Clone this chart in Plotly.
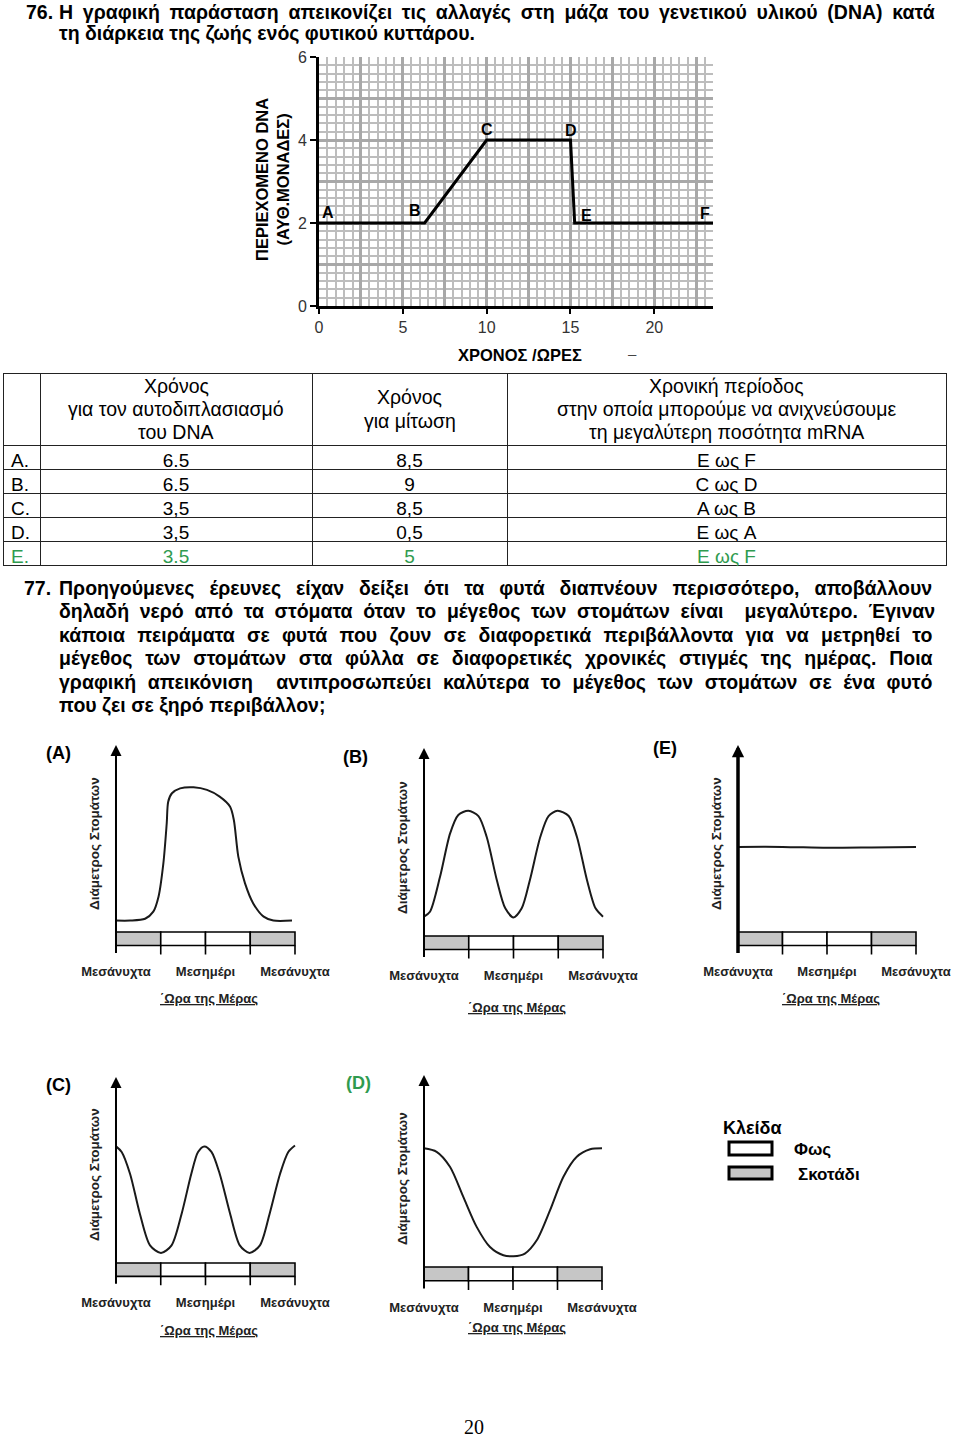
import plotly.graph_objects as go

W, H = 960, 1440
FONT = "Liberation Sans, Arial, sans-serif"
GREEN = "#2f9b4f"


def fx(px):
    return px / W


def fy(py):
    return 1 - py / H


# ---- question 76: DNA content over the cell cycle ----
dna_points = ["A", "B", "C", "D", "E", "F"]
dna_hours = [0, 6.3, 10, 15, 15.25, 23.5]
dna_content = [2, 2, 4, 4, 2, 2]
dna_xticks = [0, 5, 10, 15, 20]
dna_yticks = [0, 2, 4, 6]

# ---- answer table ----
table_header = [
    [],
    ["Χρόνος", "για τον αυτοδιπλασιασμό", "του DNA"],
    ["Χρόνος", "για μίτωση"],
    ["Χρονική περίοδος", "στην οποία μπορούμε να ανιχνεύσουμε", "τη μεγαλύτερη ποσότητα mRNA"],
]
options = ["A.", "B.", "C.", "D.", "E."]
replication_time = ["6.5", "6.5", "3,5", "3,5", "3.5"]
mitosis_time = ["8,5", "9", "8,5", "0,5", "5"]
mrna_period = ["E ως F", "C ως D", "A ως B", "E ως A", "E ως F"]

# ---- question 77: stomata diameter during the day ----
day_ticks = [0, 12, 24]
day_ticktext = ["Μεσάνυχτα", "Μεσημέρι", "Μεσάνυχτα"]
strip_edges = [0, 6, 12, 18, 24]
strip_phase = ["dark", "light", "light", "dark"]

hours_A = [0, 1.9, 3.9, 5.0, 5.7, 6.35, 6.8, 7.0, 7.5, 8.6, 10.4, 12.2, 13.9,
           15.3, 15.8, 16.4, 17.3, 18.4, 19.8, 21.1, 23.6]
size_A = [0.61, 0.61, 0.71, 1.09, 1.89, 3.67, 5.8, 6.97, 7.42, 7.68, 7.74, 7.6,
          7.24, 6.7, 5.99, 4.03, 2.6, 1.53, 0.82, 0.61, 0.61]

hours_B = [0, 0.8, 2.15, 3.5, 4.6, 5.95, 7.3, 8.4, 9.76, 10.9, 12, 13.1, 14.2,
           15.6, 16.7, 17.9, 19.4, 20.5, 21.85, 23, 24]
size_B = [1.03, 1.29, 3.15, 5.46, 6.44, 6.66, 6.38, 5.28, 2.98, 1.47, 0.99,
          1.47, 2.98, 5.28, 6.38, 6.66, 6.38, 5.28, 2.98, 1.47, 1.03]

hours_E = [0, 6, 12, 18, 24]
size_E = [4.55, 4.55, 4.5, 4.52, 4.55]

hours_C = [0, 0.76, 1.88, 3.2, 4.56, 6.03, 7.45, 8.8, 10.1, 11, 11.84, 12.8,
           13.9, 15.3, 16.6, 17.9, 19.3, 20.6, 22, 23.1, 24]
size_C = [6.27, 5.97, 4.8, 2.65, 0.95, 0.54, 0.95, 2.65, 4.8, 5.97, 6.27, 5.97,
          4.8, 2.65, 0.95, 0.54, 0.95, 2.65, 4.8, 5.97, 6.32]

hours_D = [0, 1.7, 3.5, 5.3, 7.1, 8.9, 10.7, 12.07, 13.6, 15.2, 17.0, 18.8,
           20.6, 22.4, 24]
size_D = [6.18, 6.0, 5.22, 3.65, 2.09, 1.04, 0.61, 0.56, 0.7, 1.39, 2.96, 4.7,
          5.74, 6.13, 6.18]

key_items = ["Φως", "Σκοτάδι"]

phase_color = {"light": "white", "dark": "#c6c6c6"}

# pixel placement of the five small graphs
panels = [
    dict(name="(A)", hours=hours_A, size=size_A, x0=116, x1=295, ytop=932, yarrow=745,
         lab=(58, 753), title_dy=66, color="black", axis_w=2, head=1.1),
    dict(name="(B)", hours=hours_B, size=size_B, x0=424, x1=603, ytop=936, yarrow=748,
         lab=(355, 757), title_dy=72, color="black", axis_w=2, head=1.1),
    dict(name="(E)", hours=hours_E, size=size_E, x0=738, x1=916, ytop=932, yarrow=745,
         lab=(665, 748), title_dy=66, color="black", axis_w=3.5, head=0.7),
    dict(name="(C)", hours=hours_C, size=size_C, x0=116, x1=295, ytop=1263, yarrow=1077,
         lab=(58, 1085), title_dy=67, color="black", axis_w=2, head=1.1),
    dict(name="(D)", hours=hours_D, size=size_D, x0=424, x1=602, ytop=1267, yarrow=1075,
         lab=(358, 1083), title_dy=60, color=GREEN, axis_w=2, head=1.1),
]

fig = go.Figure()
annotations = []
shapes = []
layout = {}


def note(px, py, text, size, color="black", xanchor="center", family=FONT, **kw):
    """Text placed by page pixel position."""
    annotations.append(dict(x=fx(px), y=fy(py), xref="paper", yref="paper", text=text,
                            xanchor=xanchor, yanchor="middle", showarrow=False,
                            font=dict(family=family, size=size, color=color), **kw))


# ---------------- DNA chart ----------------
dna_dom_x = [fx(319), fx(713)]
dna_dom_y = [fy(306), fy(57)]
# graph paper (below)
layout["xaxis"] = dict(domain=dna_dom_x, range=[0, 23.5], anchor="y", dtick=2.5, tick0=0,
                       showgrid=True, gridcolor="#a8a8a8", gridwidth=2.6,
                       minor=dict(dtick=0.5, showgrid=True, gridcolor="#bdbdbd", gridwidth=1.6),
                       showticklabels=False, ticks="", zeroline=False, showline=False,
                       automargin=False)
layout["yaxis"] = dict(domain=dna_dom_y, range=[0, 6], anchor="x", dtick=1, tick0=0,
                       showgrid=True, gridcolor="#a8a8a8", gridwidth=2.6,
                       minor=dict(dtick=0.2, showgrid=True, gridcolor="#bdbdbd", gridwidth=1.6),
                       showticklabels=False, ticks="", zeroline=False, showline=False,
                       automargin=False)
# labelled axes with the curve (on top)
layout["xaxis2"] = dict(domain=dna_dom_x, anchor="y2", range=[0, 23.5], tickvals=dna_xticks,
                        ticks="outside", ticklen=5, tickwidth=1.5, tickcolor="black",
                        showline=True, linewidth=3, linecolor="black", showgrid=False,
                        zeroline=False, automargin=False,
                        tickfont=dict(family=FONT, size=16, color="#333"))
layout["yaxis2"] = dict(domain=dna_dom_y, anchor="x2", range=[0, 6], tickvals=dna_yticks,
                        ticks="outside", ticklen=6, tickwidth=1.5, tickcolor="black",
                        showline=True, linewidth=3, linecolor="black", showgrid=False,
                        zeroline=False, automargin=False,
                        tickfont=dict(family=FONT, size=16, color="#333"))

fig.add_trace(go.Scatter(x=[None], y=[None], xaxis="x", yaxis="y", showlegend=False,
                         hoverinfo="skip"))
fig.add_trace(go.Scatter(x=dna_hours, y=dna_content, mode="lines", xaxis="x2", yaxis="y2",
                         line=dict(color="black", width=3), showlegend=False,
                         hoverinfo="skip"))

dna_label_shift = {"A": (0.56, 0.25), "B": (-0.55, 0.3), "C": (0, 0.26), "D": (0.04, 0.22),
                   "E": (0.7, 0.18), "F": (-0.46, 0.22)}
for name, hx, val in zip(dna_points, dna_hours, dna_content):
    ddx, ddy = dna_label_shift[name]
    annotations.append(dict(x=hx + ddx, y=val + ddy, xref="x2", yref="y2", text=f"<b>{name}</b>",
                            xanchor="center", yanchor="middle", showarrow=False,
                            font=dict(family=FONT, size=16, color="black")))

note(272, 180, "<b>ΠΕΡΙΕΧΟΜΕΝΟ DNA<br>(ΑΥΘ.ΜΟΝΑΔΕΣ)</b>", 16.5, textangle=-90)
note(520, 355, "<b>ΧΡΟΝΟΣ /ΩΡΕΣ</b>", 16.5)
note(632, 353, "–", 15, color="#444")

# ---------------- table ----------------
col_px = [3, 40, 312, 507, 946]
row_colors = ["black"] * (len(options) - 1) + [GREEN]
fig.add_trace(go.Table(
    domain=dict(x=[fx(col_px[0]), fx(col_px[-1])], y=[fy(575), fy(373)]),
    columnwidth=[b - a for a, b in zip(col_px[:-1], col_px[1:])],
    header=dict(values=[""] * 4, height=72,
                line=dict(color="#222", width=1), fill=dict(color="white")),
    cells=dict(values=[options, replication_time, mitosis_time, mrna_period],
               align=["left", "center", "center", "center"], height=24,
               line=dict(color="#222", width=1), fill=dict(color="white"),
               font=dict(family=FONT, size=19, color=[row_colors] * 4)),
))
# header lines, each centred in its column
for c, lines in enumerate(table_header):
    cx = (col_px[c] + col_px[c + 1]) / 2
    y0 = 409 - 11.7 * (len(lines) - 1)
    for j, line in enumerate(lines):
        note(cx, y0 + 23.4 * j, line, 19.5)

# ---------------- page text ----------------
q76_lines = [
    "Η γραφική παράσταση απεικονίζει τις αλλαγές στη μάζα του γενετικού υλικού (DNA) κατά",
    "τη διάρκεια της ζωής ενός φυτικού κυττάρου.",
]
q77_lines = [
    "Προηγούμενες έρευνες είχαν δείξει ότι τα φυτά διαπνέουν περισσότερο, αποβάλλουν",
    "δηλαδή νερό από τα στόματα όταν το μέγεθος των στομάτων είναι  μεγαλύτερο. Έγιναν",
    "κάποια πειράματα σε φυτά που ζουν σε διαφορετικά περιβάλλοντα για να μετρηθεί το",
    "μέγεθος των στομάτων στα φύλλα σε διαφορετικές χρονικές στιγμές της ημέρας. Ποια",
    "γραφική απεικόνιση  αντιπροσωπεύει καλύτερα το μέγεθος των στομάτων σε ένα φυτό",
    "που ζει σε ξηρό περιβάλλον;",
]
# extra space between words (px) so that the lines come out justified as in print
q76_spacing = [4.3, 0]
q77_spacing = [9.5, 5.2, 6.8, 7.3, 6.2, 0]


def justified(line, gap):
    if gap <= 0:
        return f"<b>{line}</b>"
    return f"<b><span style='word-spacing:{gap}px'>{line}</span></b>"


note(24, 11.5, "<b>76.</b>", 19.5, xanchor="left")
for i, (line, gap) in enumerate(zip(q76_lines, q76_spacing)):
    note(57, 11.5 + 21.5 * i, justified(line, gap), 19.5, xanchor="left")
note(22, 588, "<b>77.</b>", 19.5, xanchor="left")
for i, (line, gap) in enumerate(zip(q77_lines, q77_spacing)):
    note(57, 588 + 23.4 * i, justified(line, gap), 19.5, xanchor="left")

# ---------------- stomata graphs ----------------
strip_mid = [(a + b) / 2 for a, b in zip(strip_edges[:-1], strip_edges[1:])]
strip_w = [b - a for a, b in zip(strip_edges[:-1], strip_edges[1:])]
strip_h = 0.72
tick_low = -1.2
xr = [-0.6, 24.6]
yr = [-1.45, 10.3]

for n, p in enumerate(panels):
    ax = n + 3
    xa, ya = f"x{ax}", f"y{ax}"
    k = (p["x1"] - p["x0"]) / 24
    s = (p["ytop"] - p["yarrow"]) / 10
    layout[f"xaxis{ax}"] = dict(domain=[fx(p["x0"] + xr[0] * k), fx(p["x0"] + xr[1] * k)],
                                range=xr, anchor=ya, tickvals=day_ticks,
                                ticktext=[f"<b>{t}</b>" for t in day_ticktext],
                                ticks="", showgrid=False, zeroline=False, showline=False,
                                ticklabelstandoff=3, automargin=False,
                                tickfont=dict(family=FONT, size=13, color="#222"))
    layout[f"yaxis{ax}"] = dict(domain=[fy(p["ytop"] - yr[0] * s), fy(p["ytop"] - yr[1] * s)],
                                range=yr, anchor=xa, visible=False, automargin=False)

    fig.add_trace(go.Bar(x=strip_mid, y=[strip_h] * len(strip_mid), base=-strip_h,
                         width=strip_w, xaxis=xa, yaxis=ya, showlegend=False,
                         marker=dict(color=[phase_color[c] for c in strip_phase],
                                     line=dict(color="black", width=1.6)),
                         hoverinfo="skip"))
    tx, ty = [], []
    for e in strip_edges[1:]:
        tx += [e, e, None]
        ty += [-strip_h, tick_low, None]
    fig.add_trace(go.Scatter(x=tx, y=ty, mode="lines", xaxis=xa, yaxis=ya, showlegend=False,
                             line=dict(color="black", width=1.6), hoverinfo="skip"))
    fig.add_trace(go.Scatter(x=p["hours"], y=p["size"], mode="lines", xaxis=xa, yaxis=ya,
                             line=dict(color="#1a1a1a", width=2, shape="spline", smoothing=0.8),
                             showlegend=False, hoverinfo="skip"))
    # vertical axis with arrow head
    annotations.append(dict(x=0, y=10, ax=0, ay=tick_low, xref=xa, yref=ya, axref=xa, ayref=ya,
                            text="", showarrow=True, arrowhead=2, arrowsize=p["head"],
                            arrowwidth=p["axis_w"], arrowcolor="black"))
    note(p["lab"][0], p["lab"][1], f"<b>{p['name']}</b>", 18, color=p["color"])
    note(p["x0"] - 22, p["ytop"] - 88, "<b>Διάμετρος Στομάτων</b>", 13.5, color="#222",
         textangle=-90)
    note(p["x0"] + 12.5 * k, p["ytop"] + p["title_dy"], "<b><u>΄Ωρα της Μέρας</u></b>", 13,
         color="#222")

# ---------------- key ----------------
note(721, 1128, "<b>Κλείδα</b>", 18, xanchor="left")
key_rows = [(1142, 1155, 792, 1149), (1167, 1179, 796, 1174)]
for item, phase, (r0, r1, tx0, tyc) in zip(key_items, ["light", "dark"], key_rows):
    shapes.append(dict(type="rect", xref="paper", yref="paper", x0=fx(729), x1=fx(772),
                       y0=fy(r1), y1=fy(r0), fillcolor=phase_color[phase],
                       line=dict(color="black", width=3)))
    note(tx0, tyc, f"<b>{item}</b>", 17, xanchor="left")

# page number
note(474, 1427, "20", 20, family="Liberation Serif, Times New Roman, serif")

fig.update_layout(width=W, height=H, margin=dict(l=0, r=0, t=0, b=0),
                  paper_bgcolor="white", plot_bgcolor="rgba(0,0,0,0)",
                  showlegend=False, barmode="overlay",
                  annotations=annotations, shapes=shapes, **layout)

# the page body has a default 8px margin; drop it so the figure sits at the window corner
fig.write_html("out.html", config={"displayModeBar": False},
               post_script="document.body.style.margin='0px';")
